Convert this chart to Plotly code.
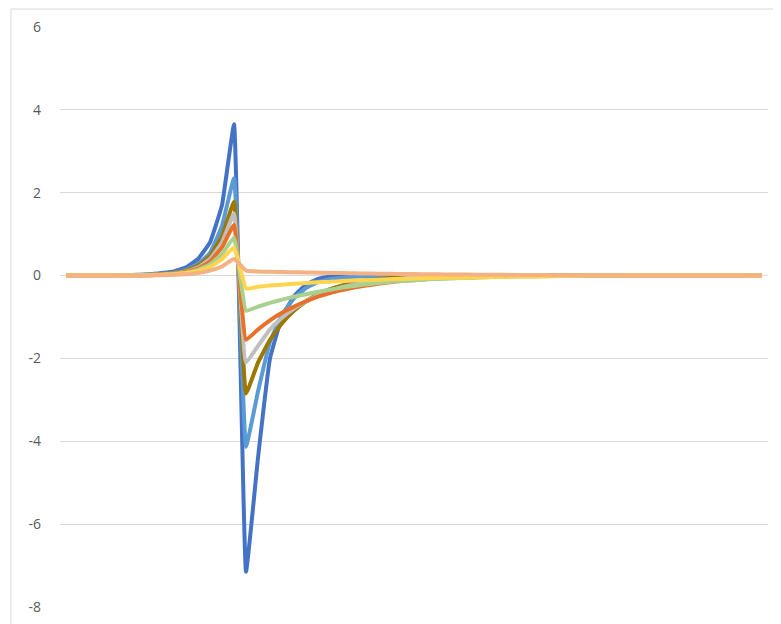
import plotly.graph_objects as go

x_index = list(range(59))

blue = [0, 0, 0, 0, 0, 0.01, 0.02, 0.03, 0.06, 0.1, 0.2, 0.4, 0.8, 1.7, 3.65,
        -7.15, -4.4, -2.0, -1.0, -0.5, -0.22, -0.08, -0.03, -0.01,
        0, 0, 0, 0, 0, 0, 0, 0, 0, 0, 0, 0, 0, 0, 0, 0, 0, 0, 0, 0, 0, 0, 0, 0, 0, 0,
        0, 0, 0, 0, 0, 0, 0, 0, 0]
light_blue = [0, 0, 0, 0, 0, 0, 0.01, 0.02, 0.04, 0.07, 0.14, 0.28, 0.55, 1.2, 2.35,
              -4.13, -2.8, -1.6, -0.95, -0.55, -0.3, -0.16, -0.09, -0.05, -0.03, -0.02, -0.01,
              0, 0, 0, 0, 0, 0, 0, 0, 0, 0, 0, 0, 0, 0, 0, 0, 0, 0, 0, 0, 0, 0, 0, 0,
              0, 0, 0, 0, 0, 0, 0, 0]
gold = [0, 0, 0, 0, 0, 0, 0.01, 0.02, 0.03, 0.06, 0.12, 0.24, 0.47, 0.95, 1.78,
        -2.85, -2.1, -1.55, -1.15, -0.85, -0.62, -0.45, -0.33, -0.24, -0.17, -0.12, -0.09,
        -0.06, -0.04, -0.03, -0.02, -0.01,
        0, 0, 0, 0, 0, 0, 0, 0, 0, 0, 0, 0, 0, 0, 0, 0, 0, 0, 0, 0, 0, 0, 0, 0, 0, 0, 0]
gray = [0, 0, 0, 0, 0, 0, 0.01, 0.02, 0.03, 0.05, 0.1, 0.2, 0.4, 0.8, 1.5,
        -2.1, -1.7, -1.3, -1.02, -0.8, -0.62, -0.48, -0.37, -0.28, -0.22, -0.17, -0.13,
        -0.1, -0.07, -0.05, -0.04, -0.03, -0.02, -0.01,
        0, 0, 0, 0, 0, 0, 0, 0, 0, 0, 0, 0, 0, 0, 0, 0, 0, 0, 0, 0, 0, 0, 0, 0, 0]
orange = [0, 0, 0, 0, 0, 0, 0, 0.01, 0.03, 0.05, 0.09, 0.17, 0.34, 0.68, 1.22,
          -1.55, -1.3, -1.08, -0.9, -0.75, -0.62, -0.51, -0.42, -0.35, -0.29, -0.24, -0.2,
          -0.16, -0.13, -0.11, -0.09, -0.07, -0.06, -0.05, -0.04, -0.03, -0.02, -0.02, -0.01,
          0, 0, 0, 0, 0, 0, 0, 0, 0, 0, 0, 0, 0, 0, 0, 0, 0, 0, 0]
green = [0, 0, 0, 0, 0, 0, 0, 0.01, 0.02, 0.04, 0.07, 0.14, 0.27, 0.52, 0.92,
         -0.85, -0.75, -0.66, -0.58, -0.51, -0.45, -0.39, -0.34, -0.29, -0.25, -0.21, -0.18,
         -0.15, -0.13, -0.11, -0.09, -0.08, -0.07, -0.06, -0.05, -0.04, -0.03, -0.03, -0.02,
         -0.02, -0.01,
         0, 0, 0, 0, 0, 0, 0, 0, 0, 0, 0, 0, 0, 0, 0, 0, 0, 0]
yellow = [0, 0, 0, 0, 0, 0, 0, 0, 0.02, 0.03, 0.06, 0.11, 0.21, 0.4, 0.68,
          -0.31, -0.27, -0.24, -0.22, -0.2, -0.18, -0.16, -0.15, -0.13, -0.12, -0.11, -0.1,
          -0.09, -0.08, -0.07, -0.06, -0.06, -0.05, -0.05, -0.04, -0.04, -0.03, -0.03, -0.02,
          -0.02, -0.02, -0.01, -0.01,
          0, 0, 0, 0, 0, 0, 0, 0, 0, 0, 0, 0, 0, 0, 0, 0]
peach = [0, 0, 0, 0, 0, 0, 0, 0, 0.01, 0.02, 0.03, 0.06, 0.12, 0.22, 0.4,
         0.12, 0.1, 0.09, 0.085, 0.08, 0.075, 0.07, 0.065, 0.06, 0.055, 0.05, 0.046,
         0.042, 0.038, 0.035, 0.032, 0.029, 0.026, 0.024, 0.022, 0.02, 0.018, 0.016, 0.014,
         0.012, 0.011, 0.01, 0.009, 0.008, 0.007, 0.006, 0.005, 0.004, 0.003, 0.002, 0.001,
         0, 0, 0, 0, 0, 0, 0, 0]

series = [
    ("Series1", blue, "#4472C4"),
    ("Series2", light_blue, "#5B9BD5"),
    ("Series3", gold, "#9C7800"),
    ("Series4", gray, "#BFBFBF"),
    ("Series5", orange, "#E8702A"),
    ("Series6", green, "#A9D18E"),
    ("Series7", yellow, "#FFD54F"),
    ("Series8", peach, "#F4B183"),
]

y_ticks = [-8, -6, -4, -2, 0, 2, 4, 6]
y_tick_labels = ["-8", "-6", "-4", "-2", "0", "2", "4", "6"]

fig = go.Figure()
for name, vals, color in series:
    fig.add_trace(go.Scatter(x=x_index, y=vals, mode="lines", name=name,
                             line=dict(color=color, width=4, shape="spline",
                                       smoothing=0.3),
                             hoverinfo="skip"))

# page has an 8px body margin; figure sized to fit window
W, H = 773, 616
L, T = 52, 19
pw, ph = 708, 580
R = W - L - pw
B = H - T - ph

fig.add_shape(type="rect", xref="paper", yref="paper",
              x0=(3 - L) / pw, x1=(W + 20 - L) / pw,
              y0=-(B + 20) / ph, y1=(H - B - 1) / ph,
              line=dict(color="#D9D9D9", width=1), fillcolor="rgba(0,0,0,0)",
              layer="below")

fig.update_layout(
    width=W, height=H,
    margin=dict(l=L, r=R, t=T, b=B, pad=0, autoexpand=False),
    paper_bgcolor="white", plot_bgcolor="white",
    showlegend=False,
    font=dict(family="Open Sans", size=14, color="#595959"),
    xaxis=dict(range=[-0.5, 58.5], showgrid=False, zeroline=False,
               showticklabels=False, showline=False, ticks="", automargin=False),
    yaxis=dict(range=[-8, 6], tickvals=y_ticks, ticktext=y_tick_labels,
               showgrid=True, gridcolor="#D9D9D9", gridwidth=1, zeroline=False,
               showline=False, ticks="", ticklabelstandoff=18, automargin=False),
)

fig.write_html("out.html")
